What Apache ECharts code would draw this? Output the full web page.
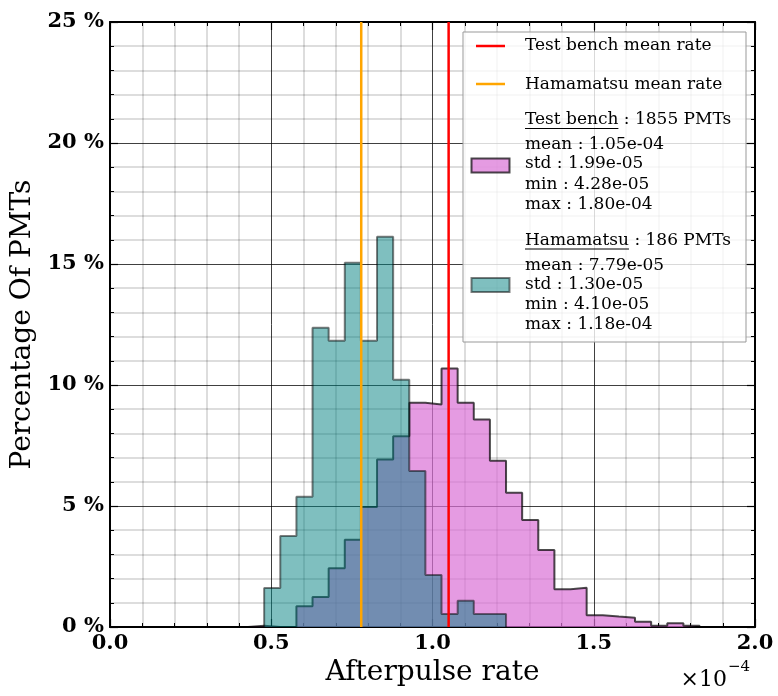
<!DOCTYPE html>
<html><head><meta charset="utf-8">
<script src="https://cdn.jsdelivr.net/npm/echarts@6/dist/echarts.min.js"></script>
<style>html,body{margin:0;padding:0;background:#fff}#c{width:778px;height:696px}</style>
</head><body><div id="c"></div>
<script>
// bin edges (×1e-4)
const binEdges = [0.428,0.478,0.528,0.578,0.628,0.678,0.728,0.778,0.828,0.878,0.928,0.978,1.028,1.078,1.128,1.178,1.228,1.278,1.328,1.378,1.428,1.478,1.528,1.578,1.628,1.678,1.728,1.778,1.828];
// percentage of PMTs per bin
const testBench = [0.05,0,0,0.86,1.24,2.43,3.61,4.96,6.92,7.88,9.27,9.19,10.68,9.27,8.57,6.87,5.55,4.42,3.18,1.56,1.62,0.49,0.43,0.38,0.22,0.05,0.16,0.05];
const hamamatsu = [0,1.61,3.76,5.38,12.37,11.83,15.05,11.83,16.13,10.22,6.45,2.15,0.54,1.08,0.54,0.54,0,0,0,0,0,0,0,0,0,0,0,0];
const meanTestBench = 1.05;
const meanHamamatsu = 0.779;
const legendTB = ['mean : 1.05e-04','std : 1.99e-05','min : 4.28e-05','max : 1.80e-04'];
const legendHam = ['mean : 7.79e-05','std : 1.30e-05','min : 4.10e-05','max : 1.18e-04'];

function stepPath(edges, h){
  const pts=[[edges[0],0]];
  for(let i=0;i<h.length;i++){pts.push([edges[i],h[i]]);pts.push([edges[i+1],h[i]]);}
  pts.push([edges[h.length],0]);
  return pts;
}
const FF='DejaVu Serif';
const chart=echarts.init(document.getElementById('c'),null,{renderer:'canvas'});
const L=110,R=755,T=22,B=627;
const majorGrid={show:true,lineStyle:{color:'rgba(0,0,0,0.75)',width:1}};
const minorGrid={show:true,lineStyle:{color:'rgba(0,0,0,0.18)',width:1.5}};
function axisBase(extra){
  return Object.assign({
    type:'value',
    axisLine:{show:true,onZero:false,lineStyle:{color:'#000',width:2}},
    axisTick:{show:true,inside:true,length:8,lineStyle:{color:'#000',width:1.2}},
    minorTick:{show:true,splitNumber:5,length:4,lineStyle:{color:'#000',width:1}},
  },extra);
}
const lx=463,ly=32,lw=283,lh=310;
const F17='17px "'+FF+'"';
const legendEls=[
  {type:'rect',shape:{x:lx,y:ly,width:lw,height:lh},style:{fill:'rgba(255,255,255,0.8)',stroke:'#999',lineWidth:1},z:100},
  {type:'line',shape:{x1:476,y1:46,x2:505,y2:46},style:{stroke:'#ff0000',lineWidth:2.5},z:101},
  {type:'text',x:525,y:46,style:{text:'Test bench mean rate',font:F17,fill:'#000',verticalAlign:'middle'},z:101},
  {type:'line',shape:{x1:476,y1:84,x2:505,y2:84},style:{stroke:'#ffa500',lineWidth:2.5},z:101},
  {type:'text',x:525,y:85,style:{text:'Hamamatsu mean rate',font:F17,fill:'#000',verticalAlign:'middle'},z:101},
  {type:'rect',shape:{x:471.5,y:158.5,width:38,height:14},style:{fill:'rgba(218,112,214,0.7)',stroke:'rgba(0,0,0,0.7)',lineWidth:2},z:101},
  {type:'rect',shape:{x:471.5,y:278,width:38,height:14},style:{fill:'rgba(0,128,128,0.5)',stroke:'rgba(0,0,0,0.5)',lineWidth:2},z:101},
];
function block(title,count,lines,y0){
  legendEls.push({type:'text',x:525,y:y0,style:{text:title+' : '+count,font:F17,fill:'#000',verticalAlign:'middle'},z:101});
  const dy=[25,44,64.5,84.5];
  lines.forEach((s,i)=>legendEls.push({type:'text',x:525,y:y0+dy[i],style:{text:s,font:F17,fill:'#000',verticalAlign:'middle'},z:101}));
}
block('Test bench','1855 PMTs',legendTB,120);
block('Hamamatsu','186 PMTs',legendHam,240.5);
const cv=document.createElement('canvas').getContext('2d');cv.font=F17;
legendEls.push({type:'line',shape:{x1:525,y1:128.5,x2:525+cv.measureText('Test bench').width,y2:128.5},style:{stroke:'#000',lineWidth:1},z:101});
legendEls.push({type:'line',shape:{x1:525,y1:249,x2:525+cv.measureText('Hamamatsu').width,y2:249},style:{stroke:'#000',lineWidth:1},z:101});
legendEls.push({type:'text',x:727,y:680,style:{text:'×10',font:'22px "'+FF+'"',fill:'#000',align:'right',verticalAlign:'middle'},z:101});
legendEls.push({type:'text',x:728,y:667,style:{text:'−4',font:'15px "'+FF+'"',fill:'#000',align:'left',verticalAlign:'middle'},z:101});

chart.setOption({
  animation:false,
  backgroundColor:'#fff',
  grid:{left:L,right:778-R,top:T,bottom:696-B,containLabel:false,outerBoundsMode:'none'},
  xAxis:[
    axisBase({min:0,max:2,interval:0.5,position:'bottom',
      axisLabel:{show:true,margin:6,fontFamily:FF,fontSize:21,fontWeight:'bold',color:'#000',formatter:v=>v.toFixed(1)},
      splitLine:majorGrid,minorSplitLine:minorGrid,
      name:'Afterpulse rate',nameLocation:'middle',nameGap:32,nameTextStyle:{fontFamily:FF,fontSize:28,color:'#000'}}),
    axisBase({min:0,max:2,interval:0.5,position:'top',axisLabel:{show:false},splitLine:{show:false}})
  ],
  yAxis:[
    axisBase({min:0,max:25,interval:5,position:'left',
      axisLabel:{show:true,margin:6,fontFamily:FF,fontSize:21,fontWeight:'bold',color:'#000',formatter:v=>v+' %'},
      splitLine:majorGrid,minorSplitLine:minorGrid,
      name:'Percentage Of PMTs',nameLocation:'middle',nameGap:72,nameTextStyle:{fontFamily:FF,fontSize:28,color:'#000'}}),
    axisBase({min:0,max:25,interval:5,position:'right',axisLabel:{show:false},splitLine:{show:false}})
  ],
  series:[
    {type:'line',name:'Test bench',data:stepPath(binEdges,testBench),symbol:'none',z:3,
      lineStyle:{color:'rgba(0,0,0,0.7)',width:2},areaStyle:{color:'rgba(218,112,214,0.7)',opacity:1,origin:0}},
    {type:'line',name:'Hamamatsu',data:stepPath(binEdges.slice(0,17),hamamatsu.slice(0,16)),symbol:'none',z:4,
      lineStyle:{color:'rgba(0,0,0,0.5)',width:2},areaStyle:{color:'rgba(0,128,128,0.5)',opacity:1,origin:0}},
    {type:'line',name:'Test bench mean rate',data:[[meanTestBench,0],[meanTestBench,25]],symbol:'none',z:5,
      lineStyle:{color:'#ff0000',width:2.5}},
    {type:'line',name:'Hamamatsu mean rate',data:[[meanHamamatsu,0],[meanHamamatsu,25]],symbol:'none',z:5,
      lineStyle:{color:'#ffa500',width:2.5}}
  ],
  graphic:legendEls
});
</script></body></html>
